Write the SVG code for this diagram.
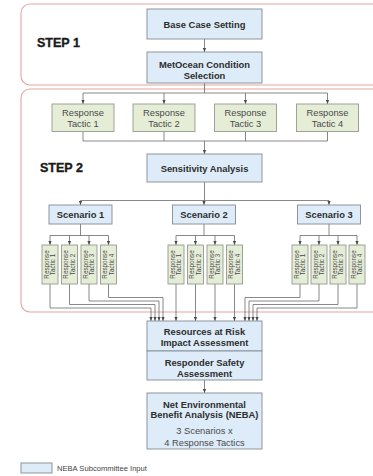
<svg xmlns="http://www.w3.org/2000/svg" width="373" height="476" viewBox="0 0 373 476">
  <defs>
    <style>
      .frame { fill: none; stroke: #e5a3a3; stroke-width: 1.1; }
      .blue { fill: #ddecf8; stroke: #858c92; stroke-width: 0.9; }
      .green { fill: #e5edd7; stroke: #959a90; stroke-width: 0.9; }
      .b { font-family: "Liberation Sans", Arial, sans-serif; font-weight: bold; font-size: 9.4px; fill: #2e2e2e; text-anchor: middle; }
      .r { font-family: "Liberation Sans", Arial, sans-serif; font-size: 9.3px; fill: #4a4a4a; text-anchor: middle; }
      .v { font-family: "Liberation Sans", Arial, sans-serif; font-size: 6.3px; fill: #4a4a4a; text-anchor: middle; }
      .step { font-family: "Liberation Sans", Arial, sans-serif; font-weight: bold; font-size: 12.5px; fill: #1a1a1a; stroke: #1a1a1a; stroke-width: 0.35; }
      .legend { font-family: "Liberation Sans", Arial, sans-serif; font-size: 7.6px; fill: #444; }
      .ln { fill: none; stroke: #6a6a6a; stroke-width: 0.8; }
      .ar { fill: none; stroke: #6a6a6a; stroke-width: 0.8; marker-end: url(#arrow); }
    </style>
    <marker id="arrow" markerUnits="userSpaceOnUse" markerWidth="4" markerHeight="4" viewBox="0 0 4 4" refX="4" refY="2" orient="auto">
      <path d="M0,0.4 L4,2 L0,3.6 Z" fill="#4a4a4a"/>
    </marker>
  </defs>

  <!-- step frames -->
  <rect class="frame" x="21" y="4" width="370" height="81" rx="9"/>
  <rect class="frame" x="21" y="89" width="370" height="223" rx="9"/>
  <text class="step" x="37" y="47">STEP 1</text>
  <text class="step" x="40" y="172">STEP 2</text>

  <!-- connectors -->
  <g id="connectors">
    <path class="ar" d="M204.5,39 V52"/>
    <path class="ln" d="M204.5,83 V93 M83,93 H327.5"/>
    <path class="ar" d="M83,93 V104"/>
    <path class="ar" d="M164,93 V104"/>
    <path class="ar" d="M245.5,93 V104"/>
    <path class="ar" d="M327.5,93 V104"/>
    <path class="ln" d="M83,131.5 V141 M164,131.5 V141 M245.5,131.5 V141 M327.5,131.5 V141 M83,141 H327.5"/>
    <path class="ar" d="M204.5,141 V154"/>
    <path class="ln" d="M204.5,182 V200.5 M80.5,200.5 H329"/>
    <path class="ar" d="M80.5,200.5 V205"/>
    <path class="ar" d="M204,200.5 V205"/>
    <path class="ar" d="M329,200.5 V205"/>

    <!-- scenario 1 fan-out -->
    <path class="ln" d="M80.5,224 V235.5 M50,235.5 H108.5"/>
    <path class="ar" d="M50,235.5 V245"/>
    <path class="ar" d="M69.5,235.5 V245"/>
    <path class="ar" d="M89,235.5 V245"/>
    <path class="ar" d="M108.5,235.5 V245"/>
    <!-- scenario 2 fan-out -->
    <path class="ln" d="M204,224 V235.5 M176,235.5 H234.5"/>
    <path class="ar" d="M176,235.5 V245"/>
    <path class="ar" d="M195.5,235.5 V245"/>
    <path class="ar" d="M215,235.5 V245"/>
    <path class="ar" d="M234.5,235.5 V245"/>
    <!-- scenario 3 fan-out -->
    <path class="ln" d="M329,224 V235.5 M300,235.5 H357"/>
    <path class="ar" d="M300,235.5 V245"/>
    <path class="ar" d="M319,235.5 V245"/>
    <path class="ar" d="M338,235.5 V245"/>
    <path class="ar" d="M357,235.5 V245"/>

    <!-- tactics into impact assessment -->
    <path class="ar" d="M50,284 V308 H151 V321"/>
    <path class="ar" d="M69.5,284 V304.5 H155 V321"/>
    <path class="ar" d="M89,284 V301 H159 V321"/>
    <path class="ar" d="M108.5,284 V297.5 H163 V321"/>
    <path class="ar" d="M176,284 V321"/>
    <path class="ar" d="M195.5,284 V321"/>
    <path class="ar" d="M215,284 V321"/>
    <path class="ar" d="M234.5,284 V321"/>
    <path class="ar" d="M300,284 V297.5 H245 V321"/>
    <path class="ar" d="M319,284 V301 H249 V321"/>
    <path class="ar" d="M338,284 V304.5 H253 V321"/>
    <path class="ar" d="M357,284 V308 H257 V321"/>

    <path class="ar" d="M204.5,380 V393"/>
  </g>

  <!-- step 1 -->
  <g id="base-case">
    <rect class="blue" x="147" y="9" width="115" height="30"/>
    <text class="b" x="204.5" y="27.5">Base Case Setting</text>
  </g>
  <g id="metocean">
    <rect class="blue" x="147" y="52" width="115" height="31"/>
    <text class="b" x="204.5" y="67.5">MetOcean Condition</text>
    <text class="b" x="204.5" y="78.5">Selection</text>
  </g>

  <!-- response tactics -->
  <g id="tactic-1">
    <rect class="green" x="52" y="104" width="62" height="27.5"/>
    <text class="r" x="83" y="115.5">Response</text>
    <text class="r" x="83" y="127">Tactic 1</text>
  </g>
  <g id="tactic-2">
    <rect class="green" x="133" y="104" width="62" height="27.5"/>
    <text class="r" x="164" y="115.5">Response</text>
    <text class="r" x="164" y="127">Tactic 2</text>
  </g>
  <g id="tactic-3">
    <rect class="green" x="214.5" y="104" width="62" height="27.5"/>
    <text class="r" x="245.5" y="115.5">Response</text>
    <text class="r" x="245.5" y="127">Tactic 3</text>
  </g>
  <g id="tactic-4">
    <rect class="green" x="296.5" y="104" width="62" height="27.5"/>
    <text class="r" x="327.5" y="115.5">Response</text>
    <text class="r" x="327.5" y="127">Tactic 4</text>
  </g>

  <g id="sensitivity">
    <rect class="blue" x="147" y="154" width="115" height="28"/>
    <text class="b" x="204.5" y="171.5">Sensitivity Analysis</text>
  </g>

  <!-- scenarios -->
  <g id="scenario-1">
    <rect class="blue" x="49" y="205" width="63" height="19"/>
    <text class="b" x="80.5" y="218">Scenario 1</text>
  </g>
  <g id="scenario-2">
    <rect class="blue" x="172.5" y="205" width="63" height="19"/>
    <text class="b" x="204" y="218">Scenario 2</text>
  </g>
  <g id="scenario-3">
    <rect class="blue" x="297.5" y="205" width="63" height="19"/>
    <text class="b" x="329" y="218">Scenario 3</text>
  </g>

  <!-- per-scenario tactics (vertical labels) -->
  <g id="s1-tactic-1"><rect class="green" x="42" y="245" width="16" height="39"/>
    <text class="v" transform="translate(50,264.5) rotate(-90)"><tspan x="0" y="-1.2">Response</tspan><tspan x="0" y="5.4">Tactic 1</tspan></text></g>
  <g id="s1-tactic-2"><rect class="green" x="61.5" y="245" width="16" height="39"/>
    <text class="v" transform="translate(69.5,264.5) rotate(-90)"><tspan x="0" y="-1.2">Response</tspan><tspan x="0" y="5.4">Tactic 2</tspan></text></g>
  <g id="s1-tactic-3"><rect class="green" x="81" y="245" width="16" height="39"/>
    <text class="v" transform="translate(89,264.5) rotate(-90)"><tspan x="0" y="-1.2">Response</tspan><tspan x="0" y="5.4">Tactic 3</tspan></text></g>
  <g id="s1-tactic-4"><rect class="green" x="100.5" y="245" width="16" height="39"/>
    <text class="v" transform="translate(108.5,264.5) rotate(-90)"><tspan x="0" y="-1.2">Response</tspan><tspan x="0" y="5.4">Tactic 4</tspan></text></g>

  <g id="s2-tactic-1"><rect class="green" x="168" y="245" width="16" height="39"/>
    <text class="v" transform="translate(176,264.5) rotate(-90)"><tspan x="0" y="-1.2">Response</tspan><tspan x="0" y="5.4">Tactic 1</tspan></text></g>
  <g id="s2-tactic-2"><rect class="green" x="187.5" y="245" width="16" height="39"/>
    <text class="v" transform="translate(195.5,264.5) rotate(-90)"><tspan x="0" y="-1.2">Response</tspan><tspan x="0" y="5.4">Tactic 2</tspan></text></g>
  <g id="s2-tactic-3"><rect class="green" x="207" y="245" width="16" height="39"/>
    <text class="v" transform="translate(215,264.5) rotate(-90)"><tspan x="0" y="-1.2">Response</tspan><tspan x="0" y="5.4">Tactic 3</tspan></text></g>
  <g id="s2-tactic-4"><rect class="green" x="226.5" y="245" width="16" height="39"/>
    <text class="v" transform="translate(234.5,264.5) rotate(-90)"><tspan x="0" y="-1.2">Response</tspan><tspan x="0" y="5.4">Tactic 4</tspan></text></g>

  <g id="s3-tactic-1"><rect class="green" x="292" y="245" width="16" height="39"/>
    <text class="v" transform="translate(300,264.5) rotate(-90)"><tspan x="0" y="-1.2">Response</tspan><tspan x="0" y="5.4">Tactic 1</tspan></text></g>
  <g id="s3-tactic-2"><rect class="green" x="311" y="245" width="16" height="39"/>
    <text class="v" transform="translate(319,264.5) rotate(-90)"><tspan x="0" y="-1.2">Response</tspan><tspan x="0" y="5.4">Tactic 2</tspan></text></g>
  <g id="s3-tactic-3"><rect class="green" x="330" y="245" width="16" height="39"/>
    <text class="v" transform="translate(338,264.5) rotate(-90)"><tspan x="0" y="-1.2">Response</tspan><tspan x="0" y="5.4">Tactic 3</tspan></text></g>
  <g id="s3-tactic-4"><rect class="green" x="349" y="245" width="16" height="39"/>
    <text class="v" transform="translate(357,264.5) rotate(-90)"><tspan x="0" y="-1.2">Response</tspan><tspan x="0" y="5.4">Tactic 4</tspan></text></g>

  <!-- assessments -->
  <g id="impact-assessment">
    <rect class="blue" x="147" y="321" width="115" height="30"/>
    <text class="b" x="204.5" y="334.5">Resources at Risk</text>
    <text class="b" x="204.5" y="345.5">Impact Assessment</text>
  </g>
  <g id="safety-assessment">
    <rect class="blue" x="147" y="351" width="115" height="29"/>
    <text class="b" x="204.5" y="365.5">Responder Safety</text>
    <text class="b" x="204.5" y="376.5">Assessment</text>
  </g>
  <g id="neba">
    <rect class="blue" x="147" y="393" width="115" height="56"/>
    <text class="b" x="204.5" y="407.5">Net Environmental</text>
    <text class="b" x="204.5" y="417.5">Benefit Analysis (NEBA)</text>
    <text class="r" x="204.5" y="433.5">3 Scenarios x</text>
    <text class="r" x="204.5" y="445.5">4 Response Tactics</text>
  </g>

  <!-- legend -->
  <g id="legend">
    <rect class="blue" x="21" y="463" width="31" height="10"/>
    <text class="legend" x="57" y="470.8">NEBA Subcommittee Input</text>
  </g>
</svg>
